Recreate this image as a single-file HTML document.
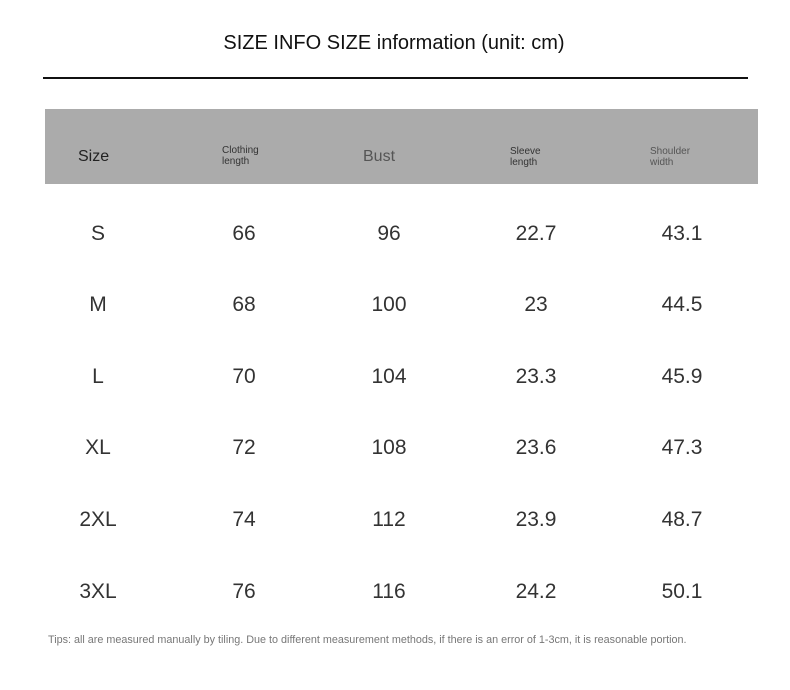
<!DOCTYPE html>
<html><head><style>
body{margin:0;width:790px;height:690px;background:#fff;position:relative;font-family:"Liberation Sans",sans-serif;overflow:hidden}
.a{position:absolute;white-space:nowrap}
.t{left:0;width:788px;text-align:center;top:32px;font-size:20px;color:#111}
.line{position:absolute;left:43px;top:77px;width:705px;height:2px;background:#111}
.band{position:absolute;left:45px;top:109px;width:713px;height:75px;background:#ababab}
.c{position:absolute;transform:translate(-50%,-50%);font-size:21px;color:#333;white-space:nowrap}
.h{position:absolute;font-size:10px;line-height:11px;color:#333}
.tip{left:48px;top:634px;font-size:10.8px;color:#777}
</style></head><body>
<div class="a t">SIZE INFO SIZE information (unit: cm)</div>
<div class="line"></div>
<div class="band"></div>
<div class="a" style="left:78px;top:148px;font-size:16px;color:#222">Size</div>
<div class="h" style="left:222px;top:145px">Clothing<br>length</div>
<div class="a" style="left:363px;top:148px;font-size:16px;color:#555">Bust</div>
<div class="h" style="left:510px;top:146px">Sleeve<br>length</div>
<div class="h" style="left:650px;top:146px;color:#555">Shoulder<br>width</div>
<div id="g"></div>
<div class="a tip">Tips: all are measured manually by tiling. Due to different measurement methods, if there is an error of 1-3cm, it is reasonable portion.</div>
<script>
var d=[["S","66","96","22.7","43.1"],["M","68","100","23","44.5"],["L","70","104","23.3","45.9"],["XL","72","108","23.6","47.3"],["2XL","74","112","23.9","48.7"],["3XL","76","116","24.2","50.1"]];
var xs=[98,244,389,536,682],ys=[234,305,377,448,520,592],h="";
d.forEach(function(r,i){r.forEach(function(v,j){h+='<div class="c" style="left:'+xs[j]+'px;top:'+ys[i]+'px">'+v+'</div>';});});
document.getElementById('g').innerHTML=h;
</script>
</body></html>
